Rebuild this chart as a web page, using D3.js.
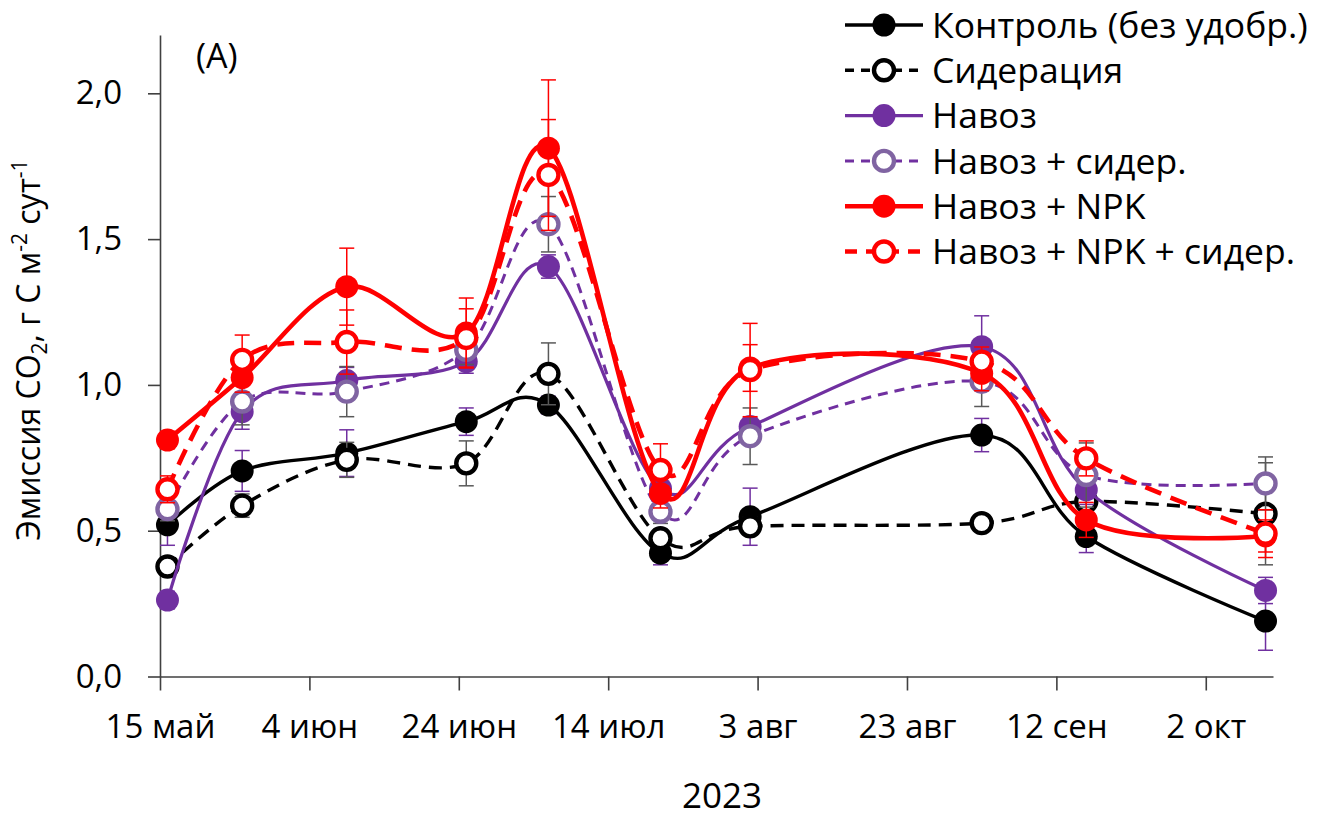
<!DOCTYPE html>
<html>
<head>
<meta charset="utf-8">
<script src="https://cdn.jsdelivr.net/npm/d3@7"></script>
<style>
  body { margin: 0; background: #fff; }
  svg { display: block; }
  text { font-family: "Open Sans", sans-serif; fill: #000; }
</style>
</head>
<body>
<svg id="chart" width="1320" height="818"></svg>
<script>
// Sampling dates (2023)
const sampleDates = ["2023-05-16", "2023-05-26", "2023-06-09", "2023-06-25", "2023-07-06",
                     "2023-07-21", "2023-08-02", "2023-09-02", "2023-09-16", "2023-10-10"];

// CO2 emission, g C m-2 day-1, with standard errors
const control        = [0.520, 0.705, 0.766, 0.874, 0.931, 0.423, 0.548, 0.828, 0.480, 0.190];
const controlErr     = [0.070, 0.070, 0.080, 0.047, 0.030, 0.040, 0.098, 0.057, 0.055, 0.100];
const greenManure    = [0.377, 0.586, 0.743, 0.731, 1.038, 0.474, 0.515, 0.526, 0.600, 0.558];
const greenManureErr = [0.030, 0.040, 0.060, 0.077, 0.106, 0.030, 0.030, 0.020, 0.030, 0.175];
const manure         = [0.262, 0.908, 1.015, 1.080, 1.406, 0.645, 0.857, 1.131, 0.640, 0.295];
const manureErr      = [0.030, 0.060, 0.045, 0.040, 0.040, 0.050, 0.030, 0.106, 0.050, 0.045];
const manureGreen    = [0.574, 0.943, 0.977, 1.120, 1.551, 0.565, 0.824, 1.011, 0.691, 0.662];
const manureGreenErr = [0.040, 0.080, 0.086, 0.050, 0.095, 0.040, 0.097, 0.085, 0.110, 0.091];
const manureNPK      = [0.811, 1.025, 1.337, 1.178, 1.812, 0.628, 1.058, 1.040, 0.537, 0.482];
const manureNPKErr   = [0.030, 0.050, 0.132, 0.120, 0.234, 0.050, 0.080, 0.060, 0.060, 0.055];
const manureNPKGreen = [0.642, 1.086, 1.147, 1.161, 1.720, 0.708, 1.051, 1.080, 0.748, 0.490];
const manureNPKGreenErr = [0.046, 0.085, 0.110, 0.100, 0.190, 0.090, 0.160, 0.050, 0.060, 0.082];

const seriesNames = ["Контроль (без удобр.)", "Сидерация", "Навоз", "Навоз + сидер.",
                     "Навоз + NPK", "Навоз + NPK + сидер."];

// Axis ticks
const tickDates  = ["2023-05-15", "2023-06-04", "2023-06-24", "2023-07-14",
                    "2023-08-03", "2023-08-23", "2023-09-12", "2023-10-02"];
const tickLabels = ["15 май", "4 июн", "24 июн", "14 июл", "3 авг", "23 авг", "12 сен", "2 окт"];
const yTicks = [0, 0.5, 1.0, 1.5, 2.0];

const parse = d3.timeParse("%Y-%m-%d");
const dates = sampleDates.map(parse);

// Drawing styles per treatment
const styles = [
  { line: "#000000", width: 3.4, dash: null,    marker: "#000000", fill: "#000000", err: "#7030a0" },
  { line: "#000000", width: 3.4, dash: "13,8",  marker: "#000000", fill: "#ffffff", err: "#595959" },
  { line: "#7030a0", width: 3.2, dash: null,    marker: "#7030a0", fill: "#7030a0", err: "#7030a0" },
  { line: "#7030a0", width: 3,   dash: "10,7",  marker: "#8064a2", fill: "#ffffff", err: "#595959" },
  { line: "#ff0000", width: 4.6, dash: null,    marker: "#ff0000", fill: "#ff0000", err: "#ff0000" },
  { line: "#ff0000", width: 4.6, dash: "17,10", marker: "#ff0000", fill: "#ffffff", err: "#ff0000" }
];
const values = [control, greenManure, manure, manureGreen, manureNPK, manureNPKGreen];
const errors = [controlErr, greenManureErr, manureErr, manureGreenErr, manureNPKErr, manureNPKGreenErr];

const series = seriesNames.map((name, i) => ({
  name, style: styles[i],
  points: dates.map((d, j) => ({ date: d, v: values[i][j], e: errors[i][j] }))
}));

const svg = d3.select("#chart");

const x = d3.scaleTime()
  .domain([parse("2023-05-15"), parse("2023-10-11")])
  .range([160, 1273]);
const y = d3.scaleLinear().domain([0, 2.2]).range([676.5, 35]);

// Axes
const fmtY = v => d3.format(".1f")(v).replace(".", ",");
const yAxis = d3.axisLeft(y).tickValues(yTicks).tickFormat(fmtY)
  .tickSize(12).tickSizeOuter(0).tickPadding(26);
const gy = svg.append("g").attr("transform", "translate(160,0)").call(yAxis);

const tickDateObjs = tickDates.map(parse);
const xAxis = d3.axisBottom(x).tickValues(tickDateObjs)
  .tickFormat((d, i) => tickLabels[i]).tickSize(14).tickSizeOuter(0).tickPadding(24);
const gx = svg.append("g").attr("transform", "translate(0,676.5)").call(xAxis);

[gx, gy].forEach(g => {
  g.select(".domain").attr("stroke", "#404040").attr("stroke-width", 1.6);
  g.selectAll(".tick line").attr("stroke", "#404040").attr("stroke-width", 1.6);
  g.selectAll(".tick text").attr("font-size", 33).attr("font-family", "'Open Sans', sans-serif").attr("fill", "#000");
});

// Series
const lineGen = d3.line()
  .x(p => x(p.date)).y(p => y(p.v))
  .curve(d3.curveCardinal.tension(0));

const capW = 7.5;
const openR = 10, openStroke = 4.4, solidR = 11.5;
series.forEach(s => {
  const g = svg.append("g");
  const st = s.style;
  // error bars
  const eb = g.selectAll(".eb").data(s.points).enter().append("g")
    .attr("stroke", st.err).attr("stroke-width", 1.5);
  eb.append("line")
    .attr("x1", p => x(p.date)).attr("x2", p => x(p.date))
    .attr("y1", p => y(p.v - p.e)).attr("y2", p => y(p.v + p.e));
  eb.append("line")
    .attr("x1", p => x(p.date) - capW).attr("x2", p => x(p.date) + capW)
    .attr("y1", p => y(p.v + p.e)).attr("y2", p => y(p.v + p.e));
  eb.append("line")
    .attr("x1", p => x(p.date) - capW).attr("x2", p => x(p.date) + capW)
    .attr("y1", p => y(p.v - p.e)).attr("y2", p => y(p.v - p.e));
  // line
  g.append("path").datum(s.points)
    .attr("d", lineGen).attr("fill", "none")
    .attr("stroke", st.line).attr("stroke-width", st.width)
    .attr("stroke-dasharray", st.dash);
  // markers
  const open = st.fill === "#ffffff";
  g.selectAll("circle").data(s.points).enter().append("circle")
    .attr("cx", p => x(p.date)).attr("cy", p => y(p.v))
    .attr("r", open ? openR : solidR)
    .attr("fill", st.fill)
    .attr("stroke", st.marker).attr("stroke-width", open ? openStroke : 0);
});

// Legend
const legend = svg.append("g");
series.forEach((s, i) => {
  const st = s.style;
  const ly = 25 + i * 45.3;
  const row = legend.append("g");
  row.append("line").attr("x1", 845).attr("x2", 923).attr("y1", ly).attr("y2", ly)
    .attr("stroke", st.line).attr("stroke-width", st.width)
    .attr("stroke-dasharray", st.dash ? (st.line === "#ff0000" ? "12,9" : "9,7") : null);
  const open = st.fill === "#ffffff";
  row.append("circle").attr("cx", 884).attr("cy", ly).attr("r", open ? openR : solidR)
    .attr("fill", st.fill).attr("stroke", st.marker).attr("stroke-width", open ? openStroke : 0);
  row.append("text").attr("x", 932).attr("y", ly).attr("dy", "0.36em")
    .attr("font-size", 35.5).text(s.name);
});

// Panel label
svg.append("text").attr("x", 196).attr("y", 68).attr("font-size", 34).text("(A)");

// X axis title
svg.append("text").attr("x", 722).attr("y", 808).attr("text-anchor", "middle")
  .attr("font-size", 35).text("2023");

// Y axis title with sub/superscripts
const yt = svg.append("text")
  .attr("transform", "translate(40,350) rotate(-90)")
  .attr("text-anchor", "middle").attr("font-size", 32);
yt.append("tspan").text("Эмиссия CO");
yt.append("tspan").attr("font-size", 21).attr("dy", 7).text("2");
yt.append("tspan").attr("dy", -7).text(", г C м");
yt.append("tspan").attr("font-size", 21).attr("dy", -13).text("-2");
yt.append("tspan").attr("dy", 13).text(" сут");
yt.append("tspan").attr("font-size", 21).attr("dy", -13).text("-1");
</script>
</body>
</html>
